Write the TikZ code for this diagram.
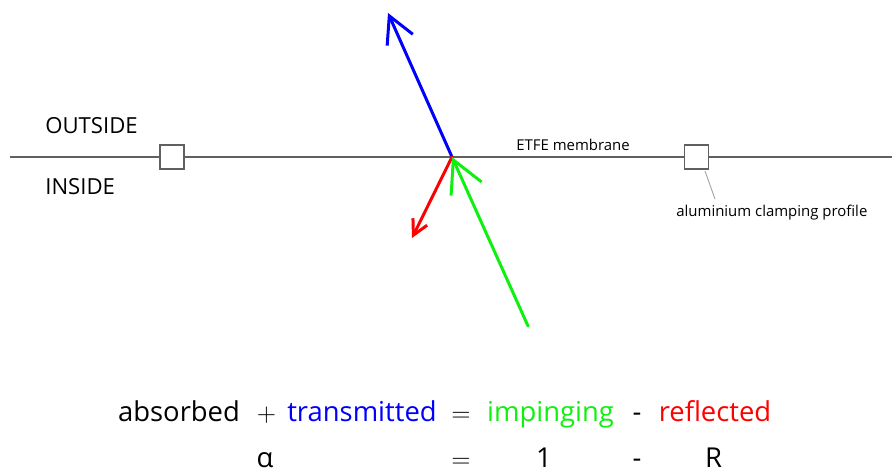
\documentclass[tikz,border=0pt]{standalone}
\usepackage{fontspec}
\setmainfont{Open Sans}
\usetikzlibrary{arrows.meta}
\definecolor{membgray}{HTML}{606060}
\definecolor{leadgray}{HTML}{A0A0A0}
\definecolor{beamblue}{HTML}{0000FF}
\definecolor{beamgreen}{HTML}{10F010}
\definecolor{beamred}{HTML}{FF0000}
\tikzset{
  membrane/.style={draw=membgray, line width=0.7pt},
  clampbox/.style={draw=membgray, fill=white, line width=0.8pt, inner sep=0pt,
                   minimum size=13.6pt},
  leader/.style={draw=leadgray, line width=0.5pt},
  sidelabel/.style={font=\fontsize{12.6}{15}\selectfont, anchor=base west, inner sep=0pt},
  smalllabel/.style={font=\fontsize{8.5}{10}\selectfont, anchor=base west, inner sep=0pt},
  eqterm/.style={font=\fontsize{15.6}{18}\selectfont, anchor=base, inner sep=0pt,
                 text depth=0pt},
  beam/.style={line width=1.7pt, line cap=round},
  tarr/.style={-{Straight Barb[length=15pt, width=16pt]}},
  rarr/.style={-{Straight Barb[length=8.5pt, width=9pt]}},
  garr/.style={-{Straight Barb[length=18pt, width=19pt]}}}
\begin{document}
\begin{tikzpicture}[x=0.02cm, y=-0.02cm]
    \useasboundingbox (0,0) rectangle (892,472);
    % the membrane and its clamping profiles
    \coordinate (mleft) at (10,157);
    \coordinate (mright) at (892,157);
    \draw[membrane] (mleft) -- (mright);
    \node[clampbox] (clampL) at (172,157) {};
    \node[clampbox] (clampR) at (696.5,157) {};
    \node[sidelabel] (outside) at (45,134) {OUTSIDE};
    \node[sidelabel] (inside) at (45,195) {INSIDE};
    \node[smalllabel] (etfe) at (516,151) {ETFE membrane};
    \node[smalllabel] (alu) at (676,217) {aluminium clamping profile};
    \coordinate (leadtop) at (705,171);
    \coordinate (leadend) at (715,199);
    \draw[leader] (leadtop) -- (leadend);
    % the three beams meet on the membrane
    \coordinate (hit) at (452,157);
    \coordinate (transend) at (388,13);
    \coordinate (reflend) at (412,238);
    \coordinate (impstart) at (528,326);
    \draw[beam, beamblue, tarr] (hit) -- (transend);
    \draw[beam, beamred, rarr] (hit) -- (reflend);
    \draw[beam, beamgreen, garr] (impstart) -- (hit);
    % the balance
    \node[eqterm] (eqabs) at (179,422) {absorbed};
    \node[eqterm] (eqplus) at (266.5,422) {$+$};
    \node[eqterm, text=beamblue] (eqtrans) at (362,422) {transmitted};
    \node[eqterm] (eqeq) at (461,422) {$=$};
    \node[eqterm, text=beamgreen] (eqimp) at (550.5,422) {impinging};
    \node[eqterm] (eqminus) at (637,422) {-};
    \node[eqterm, text=beamred] (eqrefl) at (715,422) {reflected};
    \node[eqterm] (eqalpha) at (265,467) {α};
    \node[eqterm] (eqeqb) at (461,467) {$=$};
    \node[eqterm] (eqone) at (544,467) {1};
    \node[eqterm] (eqminusb) at (637,467) {-};
    \node[eqterm] (eqR) at (713.5,467) {R};
  \end{tikzpicture}
\end{document}
